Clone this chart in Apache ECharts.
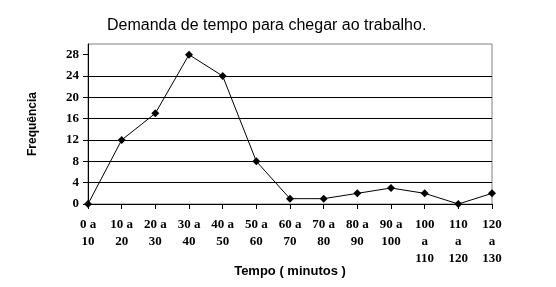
<!DOCTYPE html>
<html><head><meta charset="utf-8">
<script src="https://cdn.jsdelivr.net/npm/echarts@6/dist/echarts.min.js"></script>
<style>html,body{margin:0;padding:0;background:#fff}#c{width:556px;height:287px}</style>
</head><body><div id="c"></div>
<script>
const categories = ['0 a\n10','10 a\n20','20 a\n30','30 a\n40','40 a\n50','50 a\n60','60 a\n70','70 a\n80','80 a\n90','90 a\n100','100\na\n110','110\na\n120','120\na\n130'];
const frequencia = [0, 12, 17, 28, 24, 8, 1, 1, 2, 3, 2, 0, 2];
const yTicks = [0, 4, 8, 12, 16, 20, 24, 28];
const titleText = 'Demanda de tempo para chegar ao trabalho.';
const xName = 'Tempo ( minutos )';
const yName = 'Frequência';

const chart = echarts.init(document.getElementById('c'), null, {renderer:'canvas'});
chart.setOption({
  animation:false,
  backgroundColor:'#fff',
  title:{text:titleText,left:102,top:13,textStyle:{fontFamily:'Liberation Sans',fontSize:16,fontWeight:'normal',color:'#000'}},
  grid:{left:88,right:64,top:44,bottom:83,outerBoundsMode:'none',containLabel:false,show:true,borderColor:'#808080',borderWidth:1,backgroundColor:'transparent'},
  xAxis:{type:'category',data:categories,boundaryGap:false,
    name:xName,nameLocation:'middle',nameGap:61,nameMoveOverlap:false,
    nameTextStyle:{fontFamily:'Liberation Sans',fontSize:13,fontWeight:'bold',color:'#000'},
    axisLine:{lineStyle:{color:'#000',width:1}},
    axisTick:{show:true,alignWithLabel:true,length:5,lineStyle:{color:'#000'}},
    axisLabel:{interval:0,margin:12,fontFamily:'Liberation Serif',fontSize:13,fontWeight:'bold',color:'#000',lineHeight:17,verticalAlign:'top'},
    splitLine:{show:false}},
  yAxis:{type:'value',min:0,max:30,interval:2,
    name:yName,nameLocation:'middle',nameGap:49,nameRotate:90,nameMoveOverlap:false,
    nameTextStyle:{fontFamily:'Liberation Sans',fontSize:12,fontWeight:'bold',color:'#000'},
    axisLine:{show:true,lineStyle:{color:'#000',width:1}},
    axisTick:{show:true,length:5,lineStyle:{color:'#000'},customValues:yTicks},
    axisLabel:{margin:9,fontFamily:'Liberation Serif',fontSize:13,fontWeight:'bold',color:'#000',customValues:yTicks},
    splitLine:{show:true,showMaxLine:false,lineStyle:{color:'#000',width:1}}},
  series:[{type:'line',data:frequencia,symbol:'diamond',symbolSize:8,
    itemStyle:{color:'#000'},lineStyle:{color:'#000',width:1}}]
});
</script></body></html>
